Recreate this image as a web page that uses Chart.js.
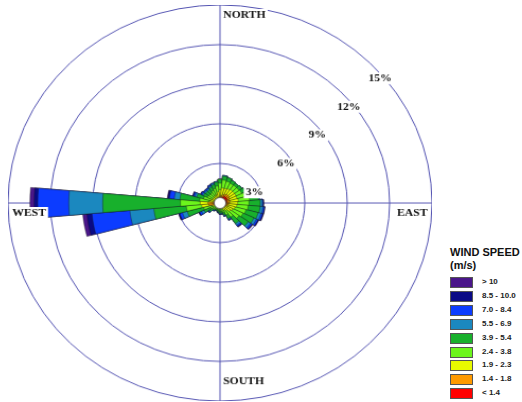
<!DOCTYPE html>
<html>
<head>
<meta charset="utf-8">
<script src="https://cdn.jsdelivr.net/npm/chart.js@4/dist/chart.umd.min.js"></script>
<style>
  html, body { margin: 0; padding: 0; background: #fff; overflow: hidden; }
  #wrap { position: relative; width: 522px; height: 402px; }
  #chart { position: absolute; left: 8px; top: 5px; }
  #legend { position: absolute; left: 450px; top: 246px; font-family: "Liberation Sans", Arial, sans-serif; color: #111; }
  .ttl { font-size: 11px; font-weight: bold; line-height: 13px; white-space: nowrap; }
  .row { position: absolute; left: 0; width: 80px; height: 10px; }
  .box { position: absolute; left: 0; top: 0; width: 21px; height: 9px; border: 1px solid #555; box-sizing: content-box; }
  .lbl { position: absolute; left: 32px; top: -1px; font-size: 8px; font-weight: bold; line-height: 12px; color: #222; white-space: nowrap; }
</style>
</head>
<body>
<div id="wrap">
  <!-- the original rose is slightly stretched sideways, so the canvas is too -->
  <canvas id="chart" width="400" height="400" style="width:424px;height:396px"></canvas>
  <div id="legend"></div>
</div>
<script>
// wind directions (degrees, clockwise from north)
const directions = [0, 10, 20, 30, 40, 50, 60, 70, 80, 90, 100, 110, 120, 130, 140, 150, 160, 170,
                    180, 190, 200, 210, 220, 230, 240, 250, 260, 270, 280, 290, 300, 310, 320, 330, 340, 350];

// speed classes, low to high
const speedClasses = ["< 1.4", "1.4 - 1.8", "1.9 - 2.3", "2.4 - 3.8", "3.9 - 5.4", "5.5 - 6.9", "7.0 - 8.4", "8.5 - 10.0", "> 10"];
const speedColors = ["#ff0000", "#ff9a00", "#e8fa00", "#6cf51c", "#18b02c", "#1b88bf", "#0c3cff", "#0a0a86", "#4a168a"];

// frequency (%) per direction for each speed class
const freqLt14   = [0.3, 0.35, 0.45, 0.55, 0.6, 0.6, 0.55, 0.5, 0.5, 0.45, 0.4, 0.35, 0.3, 0.25, 0.2, 0.2, 0.15, 0.15,
                    0.15, 0.15, 0.15, 0.15, 0.15, 0.15, 0.15, 0.2, 0.45, 0.45, 0.25, 0.2, 0.2, 0.2, 0.2, 0.2, 0.2, 0.25];
const freq14to18 = [0.2, 0.2, 0.2, 0.2, 0.2, 0.2, 0.2, 0.2, 0.2, 0.2, 0.2, 0.2, 0.15, 0.15, 0.1, 0.1, 0.08, 0.07,
                    0.07, 0.05, 0.05, 0.05, 0.05, 0.05, 0.05, 0.1, 0.35, 0.4, 0.1, 0.1, 0.1, 0.1, 0.1, 0.1, 0.1, 0.15];
const freq19to23 = [0.5, 0.6, 0.5, 0.45, 0.45, 0.45, 0.5, 0.55, 0.6, 0.6, 0.6, 0.55, 0.55, 0.5, 0.4, 0.3, 0.2, 0.2,
                    0.2, 0.15, 0.15, 0.15, 0.15, 0.2, 0.2, 0.3, 0.5, 0.55, 0.4, 0.4, 0.3, 0.3, 0.3, 0.35, 0.4, 0.45];
const freq24to38 = [0.5, 0.6, 0.55, 0.45, 0.4, 0.4, 0.45, 0.6, 0.8, 0.8, 0.8, 0.8, 0.8, 0.75, 0.6, 0.4, 0.3, 0.2,
                    0.2, 0.2, 0.15, 0.15, 0.2, 0.25, 0.35, 0.6, 1.1, 1.4, 0.7, 0.5, 0.4, 0.35, 0.35, 0.4, 0.45, 0.45];
const freq39to54 = [0.3, 0.3, 0.3, 0.25, 0.2, 0.25, 0.3, 0.4, 0.65, 0.8, 0.85, 0.9, 0.85, 0.8, 0.6, 0.3, 0.2, 0.15,
                    0.15, 0.12, 0.1, 0.1, 0.12, 0.25, 0.5, 1.2, 2.3, 5.5, 1.4, 0.5, 0.3, 0.3, 0.3, 0.3, 0.3, 0.3];
const freq55to69 = [0, 0.05, 0, 0, 0, 0, 0, 0.05, 0.1, 0.15, 0.2, 0.2, 0.2, 0.2, 0.15, 0.08, 0.07, 0.05,
                    0.05, 0.05, 0.03, 0.03, 0.05, 0.07, 0.2, 0.35, 1.7, 2.4, 0.4, 0.15, 0.1, 0.1, 0.1, 0.1, 0.1, 0.05];
const freq70to84 = [0, 0, 0, 0, 0, 0, 0, 0, 0, 0.05, 0.1, 0.12, 0.12, 0.12, 0.1, 0.05, 0.05, 0.03,
                    0.03, 0.03, 0.02, 0.02, 0.03, 0.05, 0.15, 0.2, 2.7, 2.2, 0.35, 0.1, 0.1, 0.08, 0.08, 0.08, 0.05, 0];
const freq85to10 = [0, 0, 0, 0, 0, 0, 0, 0, 0, 0.03, 0.03, 0.04, 0.04, 0.04, 0.05, 0.02, 0, 0,
                    0, 0, 0, 0, 0, 0.02, 0.05, 0.06, 0.35, 0.25, 0.1, 0.05, 0.03, 0.02, 0.02, 0.02, 0, 0];
const freqGt10   = [0, 0, 0, 0, 0, 0, 0, 0, 0, 0.02, 0.02, 0.04, 0.04, 0.04, 0.03, 0, 0, 0,
                    0, 0, 0, 0, 0, 0.01, 0.03, 0.04, 0.3, 0.3, 0.05, 0.02, 0.02, 0, 0, 0, 0, 0];

const ringTicks = [3, 6, 9, 12, 15];
const compass = ["NORTH", "EAST", "SOUTH", "WEST"];

const gridColor = "#5454b2";
const classSeries = [freqLt14, freq14to18, freq19to23, freq24to38, freq39to54, freq55to69, freq70to84, freq85to10, freqGt10];

// stacked petals: each dataset is the running total up to its class,
// dataset 0 is drawn last so the smaller ones sit on top
let running = directions.map(() => 0);
const datasets = classSeries.map((series, k) => {
  running = running.map((v, i) => v + series[i]);
  return {
    label: speedClasses[k],
    data: running.slice(),
    backgroundColor: speedColors[k],
    borderColor: "rgba(20,20,20,0.55)",
    borderWidth: 0.7
  };
});

// white box behind a label, then the text
function boxedText(c, text, x, y) {
  const w = c.measureText(text).width;
  const left = c.textAlign === "center" ? x - w / 2 : x;
  c.fillStyle = "#fff";
  c.fillRect(left - 2, y - 6, w + 4, 12);
  c.fillStyle = "#111";
  c.fillText(text, x, y);
}

const roseDecor = {
  id: "roseDecor",
  beforeDatasetsDraw(chart) {
    const s = chart.scales.r, c = chart.ctx, R = s.drawingArea;
    c.save();
    c.strokeStyle = gridColor;
    c.lineWidth = 1;
    c.beginPath();
    c.moveTo(s.xCenter - R, s.yCenter); c.lineTo(s.xCenter + R, s.yCenter);
    c.moveTo(s.xCenter, s.yCenter - R); c.lineTo(s.xCenter, s.yCenter + R);
    c.stroke();
    c.restore();
  },
  afterDatasetsDraw(chart) {
    const s = chart.scales.r, c = chart.ctx, R = s.drawingArea;
    const xc = s.xCenter, yc = s.yCenter;
    c.save();
    // calm circle
    c.beginPath();
    c.arc(xc, yc, 5.5, 0, Math.PI * 2);
    c.fillStyle = "#fff";
    c.fill();
    c.strokeStyle = "#555";
    c.lineWidth = 0.8;
    c.stroke();

    c.font = 'bold 11px "Liberation Serif", "Times New Roman", serif';
    c.textBaseline = "middle";
    c.textAlign = "center";
    ringTicks.forEach(v => {
      const r = s.getDistanceFromCenterForValue(v);
      const dx = 0.74 * r + 3;
      const dy = -(0.974 * dx - 21);
      boxedText(c, v + "%", xc + dx, yc + dy);
    });

    c.textAlign = "left";
    const spots = {
      NORTH: [xc + 3, yc - R + 10],
      EAST: [xc + R - 33, yc + 10],
      SOUTH: [xc + 3, yc + R - 20],
      WEST: [xc - R + 4, yc + 10]
    };
    compass.forEach(name => {
      const [x, y] = spots[name];
      boxedText(c, name, x, y);
    });
    c.restore();
  }
};

const ctx = document.getElementById("chart").getContext("2d");
const chart = new Chart(ctx, {
  type: "polarArea",
  data: { labels: directions.map(d => d + "°"), datasets: datasets },
  options: {
    responsive: false,
    animation: false,
    layout: { padding: 0 },
    plugins: { legend: { display: false }, tooltip: { enabled: false } },
    scales: {
      r: {
        min: 0,
        max: 15,
        startAngle: -5,
        ticks: { display: false, stepSize: 3 },
        grid: { color: gridColor, lineWidth: 1 },
        angleLines: { display: false },
        pointLabels: { display: false }
      }
    }
  },
  plugins: [roseDecor]
});

// legend, top row is the fastest class
const legend = document.getElementById("legend");
legend.innerHTML = '<div class="ttl">WIND SPEED</div><div class="ttl">(m/s)</div>';
speedClasses.slice().reverse().forEach((name, i) => {
  const k = speedClasses.length - 1 - i;
  const row = document.createElement("div");
  row.className = "row";
  row.style.top = (31 + i * 13.9) + "px";
  row.innerHTML = `<div class="box" style="background:${speedColors[k]}"></div><div class="lbl">${name}</div>`;
  legend.appendChild(row);
});
</script>
</body>
</html>
